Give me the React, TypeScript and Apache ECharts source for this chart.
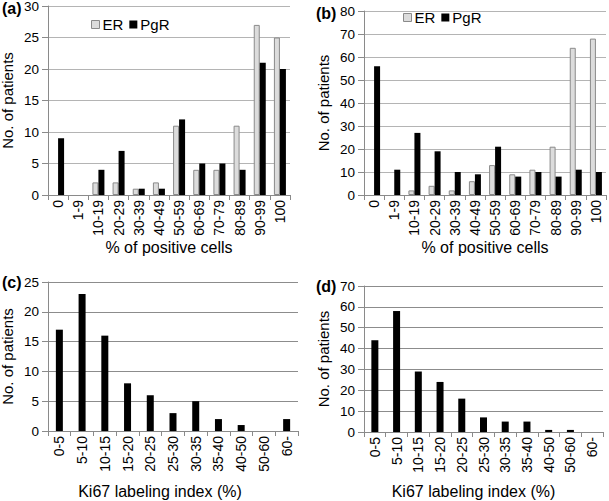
import React, { useEffect, useRef } from "react";
import * as echarts from "echarts";

const pctCategories = ["0", "1-9", "10-19", "20-29", "30-39", "40-49", "50-59", "60-69", "70-79", "80-89", "90-99", "100"];
const erA = [0, 0, 2, 2, 1, 2, 11, 4, 4, 11, 27, 25];
const pgrA = [9, 0, 4, 7, 1, 1, 12, 5, 5, 4, 21, 20];
const erB = [0, 0, 2, 4, 2, 6, 13, 9, 11, 21, 64, 68];
const pgrB = [56, 11, 27, 19, 10, 9, 21, 8, 10, 8, 11, 10];
const ki67Categories = ["0-5", "5-10", "10-15", "15-20", "20-25", "25-30", "30-35", "35-40", "40-50", "50-60", "60-"];
const ki67C = [17, 23, 16, 8, 6, 3, 5, 2, 1, 0, 2];
const ki67D = [44, 58, 29, 24, 16, 7, 5, 5, 1, 1, 0];

const FONT = "'Liberation Sans', Arial, Helvetica, sans-serif";

// zero-count bars are not drawn (no outline)
const hideZero = (arr: number[]) => arr.map((v) => (v === 0 ? "-" : v));

export default function App() {
  const ref = useRef<HTMLDivElement>(null);
  useEffect(() => {
    if (!ref.current) return;
    const chart = echarts.init(ref.current, undefined, { renderer: "svg" });
    const axisLineColor = "#8a8a8a";
    const xAxisBase = (gridIndex: number, data: string[], name: string, gap: number, pad: number[]) => ({
      type: "category",
      gridIndex,
      data,
      boundaryGap: true,
      name,
      nameLocation: "middle",
      nameGap: gap,
      nameTextStyle: { fontSize: 16, color: "#000", fontFamily: FONT, padding: pad },
      axisLine: { show: true, lineStyle: { color: axisLineColor, width: 1 } },
      axisTick: { show: true, alignWithLabel: false, length: 5, lineStyle: { color: axisLineColor } },
      axisLabel: { rotate: 90, interval: 0, margin: 5, fontSize: 14, color: "#000", fontFamily: FONT },
      splitLine: { show: false },
    });
    const yAxisBase = (gridIndex: number, max: number, interval: number, gridColor: string) => ({
      type: "value",
      gridIndex,
      min: 0,
      max,
      interval,
      name: "No. of patients",
      nameLocation: "middle",
      nameGap: 33,
      nameTextStyle: { fontSize: 15, color: "#000", fontFamily: FONT },
      axisLine: { show: true, lineStyle: { color: axisLineColor, width: 1 } },
      axisTick: { show: true, length: 6, lineStyle: { color: axisLineColor } },
      axisLabel: { margin: 9, fontSize: 13.5, color: "#000", fontFamily: FONT },
      splitLine: { show: true, lineStyle: { color: gridColor, width: 1 } },
    });
    const erStyle = { color: "#dcdcdc", borderColor: "#8a8a8a", borderWidth: 1 };
    const pgrStyle = { color: "#000" };
    const legendBase = {
      icon: "rect",
      itemWidth: 8,
      itemHeight: 8,
      itemGap: 6,
      textStyle: { fontSize: 15, color: "#000", fontFamily: FONT, padding: [0, 0, 0, -2] },
      selectedMode: false,
      data: [
        { name: "ER", itemStyle: erStyle },
        { name: "PgR", itemStyle: pgrStyle },
      ],
    };
    const option = {
      animation: false,
      textStyle: { fontFamily: FONT },
      grid: [
        { left: 48, top: 6, width: 242, height: 189, outerBoundsMode: "none", containLabel: false },
        { left: 364, top: 11, width: 242, height: 184, outerBoundsMode: "none", containLabel: false },
        { left: 48, top: 282, width: 250, height: 149, outerBoundsMode: "none", containLabel: false },
        { left: 364, top: 286, width: 239, height: 146, outerBoundsMode: "none", containLabel: false },
      ],
      xAxis: [
        xAxisBase(0, pctCategories, "% of positive cells", 42, [0, 0, 0, 0]),
        xAxisBase(1, pctCategories, "% of positive cells", 42, [0, 0, 0, 0]),
        xAxisBase(2, ki67Categories, "Ki67 labeling index (%)", 52, [0, 26, 0, 0]),
        xAxisBase(3, ki67Categories, "Ki67 labeling index (%)", 51, [0, 20, 0, 0]),
      ],
      yAxis: [
        yAxisBase(0, 30, 5, "#b4b4b4"),
        yAxisBase(1, 80, 10, "#b4b4b4"),
        yAxisBase(2, 25, 5, "#8c8c8c"),
        yAxisBase(3, 70, 10, "#8c8c8c"),
      ],
      legend: [
        { ...legendBase, left: 86, top: 12 },
        { ...legendBase, left: 398, top: 5 },
      ],
      graphic: [
        { type: "text", left: 2, top: 0, style: { text: "(a)", font: `bold 16px ${FONT}`, fill: "#000" } },
        { type: "text", left: 316, top: 5, style: { text: "(b)", font: `bold 16px ${FONT}`, fill: "#000" } },
        { type: "text", left: 2, top: 274, style: { text: "(c)", font: `bold 16px ${FONT}`, fill: "#000" } },
        { type: "text", left: 316, top: 278, style: { text: "(d)", font: `bold 16px ${FONT}`, fill: "#000" } },
      ],
      series: [
        { type: "bar", name: "ER", xAxisIndex: 0, yAxisIndex: 0, data: hideZero(erA), barWidth: 6, barGap: "0%", itemStyle: erStyle },
        { type: "bar", name: "PgR", xAxisIndex: 0, yAxisIndex: 0, data: hideZero(pgrA), barWidth: 6, barGap: "0%", itemStyle: pgrStyle },
        { type: "bar", name: "ER", xAxisIndex: 1, yAxisIndex: 1, data: hideZero(erB), barWidth: 6, barGap: "0%", itemStyle: erStyle },
        { type: "bar", name: "PgR", xAxisIndex: 1, yAxisIndex: 1, data: hideZero(pgrB), barWidth: 6, barGap: "0%", itemStyle: pgrStyle },
        { type: "bar", name: "Ki67 (c)", xAxisIndex: 2, yAxisIndex: 2, data: hideZero(ki67C), barWidth: 7, itemStyle: pgrStyle },
        { type: "bar", name: "Ki67 (d)", xAxisIndex: 3, yAxisIndex: 3, data: hideZero(ki67D), barWidth: 7, itemStyle: pgrStyle },
      ],
    };
    chart.setOption(option as any);
    return () => chart.dispose();
  }, []);
  return (
    <div
      ref={ref}
      style={{ position: "absolute", left: 0, top: 0, width: 609, height: 501, background: "#fff" }}
    />
  );
}
